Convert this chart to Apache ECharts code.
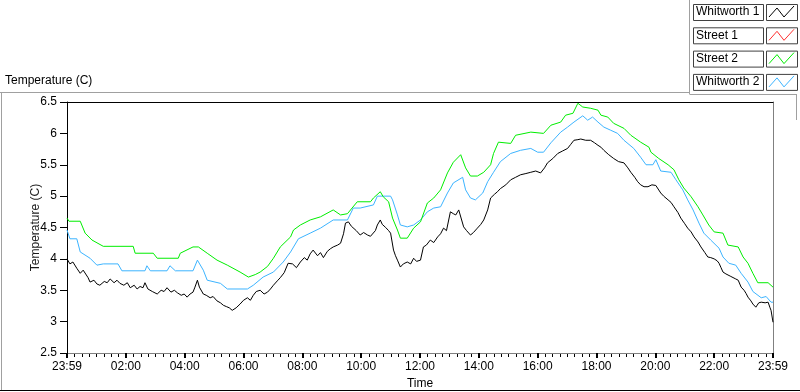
<!DOCTYPE html>
<html>
<head>
<meta charset="utf-8">
<script src="https://cdn.jsdelivr.net/npm/echarts@6/dist/echarts.min.js"></script>
<style>
html,body{margin:0;padding:0;background:#fff;}
#chart{width:800px;height:392px;}
</style>
</head>
<body>
<div id="chart"></div>
<script>
// Time in minutes after 23:59 of previous day (0 .. 1440)
const seriesNames = ['Whitworth 1', 'Street 1', 'Street 2', 'Whitworth 2'];
const seriesColors = ['#000000', '#ff3030', '#00ee00', '#3cb4ff'];

const whitworth1Time = [0,6,12,20,27,33,37,43,47,55,61,67,76,82,88,96,102,108,116,123,129,137,143,149,155,159,165,174,184,192,198,204,212,219,225,233,239,245,251,257,261,266,270,278,284,292,298,306,313,319,325,331,337,345,353,360,368,374,380,386,394,402,409,415,421,429,435,443,451,460,468,476,484,490,496,502,511,517,523,531,537,543,552,558,564,568,574,580,584,590,598,605,613,619,623,629,633,639,643,650,656,660,666,670,674,680,686,694,701,707,713,721,727,733,741,748,756,762,768,774,782,788,793,799,803,809,815,823,829,837,844,850,858,864,872,878,884,895,905,915,925,936,946,956,966,974,980,991,1001,1011,1021,1027,1034,1042,1048,1058,1068,1076,1083,1089,1095,1105,1115,1125,1136,1144,1150,1158,1164,1170,1177,1185,1193,1201,1211,1217,1226,1232,1238,1246,1252,1260,1266,1273,1279,1287,1293,1301,1307,1313,1320,1326,1330,1334,1338,1344,1348,1354,1358,1364,1369,1375,1381,1385,1389,1395,1399,1405,1411,1416,1424,1430,1434,1436,1440];
const whitworth1Temp = [4.0,3.92,3.95,3.85,3.77,3.82,3.85,3.7,3.63,3.66,3.6,3.58,3.64,3.62,3.68,3.62,3.66,3.61,3.58,3.62,3.54,3.58,3.52,3.56,3.54,3.62,3.52,3.48,3.44,3.5,3.48,3.54,3.47,3.5,3.46,3.42,3.44,3.39,3.44,3.47,3.55,3.66,3.55,3.44,3.42,3.38,3.4,3.33,3.3,3.26,3.24,3.22,3.18,3.22,3.28,3.34,3.38,3.34,3.42,3.48,3.5,3.44,3.47,3.52,3.58,3.65,3.7,3.78,3.93,3.92,3.86,3.95,4.02,3.98,4.08,4.14,4.05,4.1,4.02,4.12,4.16,4.19,4.22,4.25,4.4,4.57,4.59,4.52,4.51,4.45,4.38,4.42,4.38,4.36,4.33,4.45,4.54,4.62,4.55,4.5,4.45,4.41,4.14,4.05,3.98,3.87,3.92,3.95,3.92,4.01,3.96,3.98,4.19,4.22,4.3,4.26,4.35,4.4,4.49,4.45,4.75,4.72,4.7,4.78,4.81,4.51,4.45,4.38,4.42,4.49,4.55,4.62,4.78,4.97,5.03,5.07,5.12,5.18,5.26,5.3,5.34,5.36,5.38,5.4,5.37,5.45,5.53,5.6,5.68,5.72,5.76,5.82,5.89,5.9,5.91,5.89,5.89,5.85,5.81,5.78,5.73,5.66,5.6,5.55,5.53,5.45,5.38,5.3,5.23,5.18,5.15,5.15,5.18,5.17,5.05,5.0,4.94,4.9,4.83,4.74,4.65,4.56,4.49,4.43,4.35,4.27,4.19,4.1,4.03,4.02,4.0,3.97,3.93,3.86,3.79,3.76,3.74,3.72,3.71,3.68,3.66,3.55,3.5,3.45,3.39,3.33,3.28,3.23,3.3,3.31,3.3,3.31,3.22,3.18,2.99];

const street1Time = [];
const street1Temp = [];

const street2Time = [0,4,27,37,51,74,135,139,176,184,227,231,257,268,286,306,327,353,370,384,394,409,421,435,456,462,476,496,517,543,558,572,592,619,625,639,645,656,664,674,680,694,707,721,735,748,762,776,788,803,813,823,837,850,864,870,880,884,905,915,946,972,987,1007,1017,1032,1042,1052,1068,1083,1089,1103,1115,1136,1150,1170,1187,1191,1207,1226,1238,1248,1258,1273,1287,1297,1309,1320,1338,1348,1369,1379,1389,1399,1409,1430,1440];
const street2Temp = [4.65,4.6,4.6,4.41,4.3,4.2,4.2,4.09,4.09,4.01,4.01,4.09,4.19,4.19,4.09,3.98,3.9,3.79,3.71,3.75,3.79,3.88,4.01,4.19,4.35,4.46,4.54,4.62,4.67,4.78,4.7,4.72,4.91,4.91,4.97,5.07,4.99,4.91,4.65,4.46,4.33,4.33,4.49,4.59,4.89,4.97,5.1,5.37,5.54,5.66,5.45,5.32,5.32,5.38,5.5,5.68,5.86,5.89,5.84,5.97,6.02,6.0,6.13,6.18,6.29,6.32,6.48,6.42,6.4,6.37,6.29,6.26,6.16,6.08,5.97,5.86,5.78,5.7,5.6,5.5,5.42,5.26,5.13,4.99,4.83,4.7,4.54,4.43,4.41,4.22,4.19,4.03,3.93,3.77,3.62,3.62,3.55];

const whitworth2Time = [0,6,20,27,47,61,74,104,112,159,163,170,204,210,221,257,266,278,286,313,327,368,380,400,421,441,456,472,476,496,517,543,572,584,598,625,633,660,664,674,680,694,707,721,735,748,762,776,788,807,813,823,833,848,858,870,884,905,925,946,960,972,987,1007,1021,1034,1052,1062,1072,1083,1095,1109,1123,1136,1156,1170,1181,1195,1201,1211,1232,1242,1256,1266,1277,1289,1299,1313,1330,1338,1350,1364,1375,1389,1399,1416,1426,1436,1440];
const whitworth2Temp = [4.46,4.32,4.32,4.11,4.01,3.9,3.92,3.92,3.81,3.81,3.89,3.81,3.81,3.89,3.81,3.81,3.98,3.82,3.66,3.61,3.52,3.52,3.58,3.71,3.79,3.95,4.11,4.32,4.35,4.41,4.49,4.62,4.62,4.81,4.81,4.86,5.0,5.0,4.94,4.7,4.54,4.51,4.54,4.62,4.75,4.81,4.83,5.05,5.21,5.3,5.1,4.97,4.94,5.05,5.23,5.38,5.55,5.68,5.73,5.76,5.7,5.7,5.85,6.02,6.1,6.18,6.28,6.21,6.26,6.18,6.1,6.05,6.0,5.89,5.76,5.62,5.5,5.5,5.58,5.4,5.38,5.26,5.1,4.94,4.78,4.57,4.41,4.3,4.17,4.03,3.93,3.9,3.77,3.63,3.48,3.38,3.4,3.31,3.31];

const xTickMinutes = [0,120,240,360,480,600,720,840,960,1080,1200,1320,1440];
const xTickLabels = ['23:59','02:00','04:00','06:00','08:00','10:00','12:00','14:00','16:00','18:00','20:00','22:00','23:59'];
const xMinorStep = 15;
const yTicks = [2.5,3,3.5,4,4.5,5,5.5,6,6.5];

const chartTitle = 'Temperature (C)';
const yName = 'Temperature (C)';
const xName = 'Time';

const times = [whitworth1Time, street1Time, street2Time, whitworth2Time];
const temps = [whitworth1Temp, street1Temp, street2Temp, whitworth2Temp];

// minor tick positions (axis decoration, every 15 minutes, skipping the 2-hour marks)
const minorTickMinutes = [];
for (let m = xMinorStep; m < 1440; m += xMinorStep) {
  if (m % 120 !== 0) minorTickMinutes.push(m);
}

const FONT = 'Liberation Sans, Arial, sans-serif';
const chart = echarts.init(document.getElementById('chart'), null, {renderer: 'canvas'});

const series = seriesNames.map((name, i) => ({
  name: name,
  type: 'line',
  xAxisIndex: 0,
  yAxisIndex: 0,
  showSymbol: false,
  symbol: 'none',
  animation: false,
  lineStyle: {color: seriesColors[i], width: 1},
  itemStyle: {color: seriesColors[i]},
  z: 10 - i,
  data: times[i].map((t, k) => [t, temps[i][k]])
}));

series.push({
  name: 'minorTicks',
  type: 'custom',
  xAxisIndex: 0,
  yAxisIndex: 0,
  clip: false,
  silent: true,
  animation: false,
  data: minorTickMinutes.map(m => [m, yTicks[0]]),
  renderItem: (params, api) => {
    const p = api.coord([api.value(0), api.value(1)]);
    const x = Math.round(p[0]) + 0.5;
    const y = Math.round(p[1]);
    return {
      type: 'line',
      shape: {x1: x, y1: y + 1, x2: x, y2: y + 4},
      style: {stroke: '#000', lineWidth: 1}
    };
  }
});

// legend drawn as boxed labels (graphic), built from seriesNames/seriesColors
const legendGraphics = [];
seriesNames.forEach((name, i) => {
  const top = 4 + i * 23.3;
  legendGraphics.push({
    type: 'rect', left: 693, top: top,
    shape: {width: 70, height: 16},
    style: {fill: '#fff', stroke: '#404040', lineWidth: 1}
  });
  legendGraphics.push({
    type: 'text', left: 696, top: top + 2,
    style: {text: name, font: '12px ' + FONT, fill: '#000'}
  });
  legendGraphics.push({
    type: 'rect', left: 766, top: top,
    shape: {width: 31, height: 16},
    style: {fill: '#fff', stroke: '#404040', lineWidth: 1}
  });
  legendGraphics.push({
    type: 'polyline',
    shape: {points: [[769, top + 13], [777, top + 4], [784, top + 13], [794, top + 2]]},
    style: {stroke: seriesColors[i], lineWidth: 1, fill: null}
  });
});

const frameGraphics = [
  {type: 'line', shape: {x1: 0, y1: 92.5, x2: 690, y2: 92.5}, style: {stroke: '#a0a0a0', lineWidth: 1}},
  {type: 'line', shape: {x1: 689.5, y1: 0, x2: 689.5, y2: 94}, style: {stroke: '#a0a0a0', lineWidth: 1}},
  {type: 'line', shape: {x1: 689.5, y1: 94.5, x2: 797, y2: 94.5}, style: {stroke: '#a0a0a0', lineWidth: 1}},
  {type: 'line', shape: {x1: 796.5, y1: 94, x2: 796.5, y2: 120}, style: {stroke: '#a0a0a0', lineWidth: 1}},
  {type: 'line', shape: {x1: 1.5, y1: 92, x2: 1.5, y2: 391}, style: {stroke: '#a0a0a0', lineWidth: 1}},
  {type: 'line', shape: {x1: 0, y1: 390.5, x2: 800, y2: 390.5}, style: {stroke: '#000', lineWidth: 1}},
  {type: 'text', left: 5, top: 75, style: {text: chartTitle, font: '12px ' + FONT, fill: '#000'}}
];

const xLabelMap = {};
xTickMinutes.forEach((m, i) => { xLabelMap[m] = xTickLabels[i]; });

const option = {
  animation: false,
  backgroundColor: '#fff',
  textStyle: {fontFamily: FONT},
  grid: {left: 67, top: 102, right: 27, bottom: 39, containLabel: false, outerBoundsMode: 'none'},
  xAxis: [{
    type: 'value', min: 0, max: 1440, interval: 120, position: 'bottom',
    name: xName, nameLocation: 'middle', nameGap: 25, nameMoveOverlap: false,
    nameTextStyle: {color: '#000', fontSize: 12, fontFamily: FONT},
    axisLine: {show: true, onZero: false, lineStyle: {color: '#808080', width: 1}},
    axisTick: {show: true, length: 5, lineStyle: {color: '#000', width: 2}},
    axisLabel: {color: '#000', fontSize: 12, fontFamily: FONT, margin: 8,
      showMinLabel: true, showMaxLabel: true,
      formatter: v => (xLabelMap[v] !== undefined ? xLabelMap[v] : '')},
    splitLine: {show: false}
  }, {
    type: 'value', min: 0, max: 1440, position: 'top',
    axisLine: {show: true, onZero: false, lineStyle: {color: '#000', width: 1}},
    axisTick: {show: false}, axisLabel: {show: false}, splitLine: {show: false}
  }],
  yAxis: [{
    type: 'value', min: yTicks[0], max: yTicks[yTicks.length - 1], interval: 0.5, position: 'left',
    name: yName, nameLocation: 'middle', nameGap: 25, nameRotate: 90, nameMoveOverlap: false,
    nameTextStyle: {color: '#1a1a1a', fontSize: 12, fontFamily: FONT},
    axisLine: {show: true, onZero: false, lineStyle: {color: '#000', width: 1}},
    axisTick: {show: true, length: 7, lineStyle: {color: '#000', width: 1}},
    axisLabel: {color: '#000', fontSize: 12, fontFamily: FONT, margin: 10},
    splitLine: {show: false}
  }, {
    type: 'value', min: yTicks[0], max: yTicks[yTicks.length - 1], position: 'right',
    axisLine: {show: true, onZero: false, lineStyle: {color: '#808080', width: 1}},
    axisTick: {show: false}, axisLabel: {show: false}, splitLine: {show: false}
  }],
  series: series,
  graphic: frameGraphics.concat(legendGraphics)
};
chart.setOption(option);
</script>
</body>
</html>
